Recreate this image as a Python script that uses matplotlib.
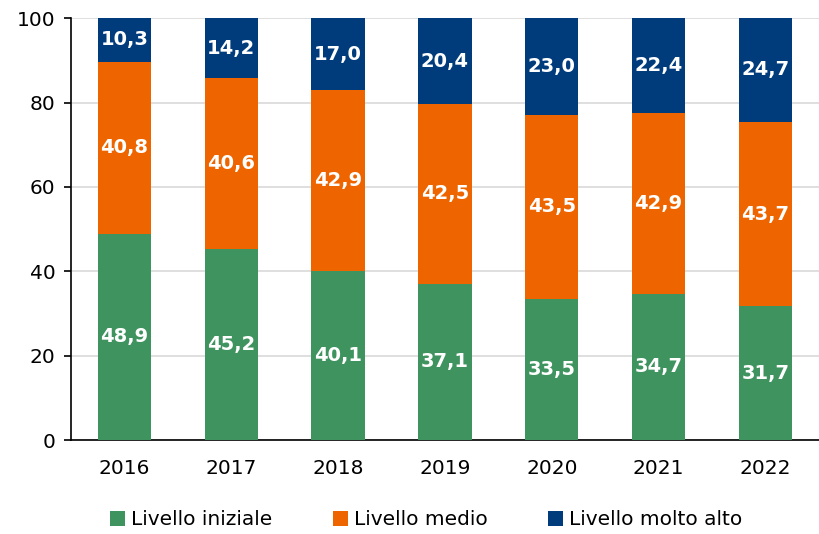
import matplotlib
matplotlib.use("Agg")
import matplotlib.pyplot as plt
import numpy as np

years = ["2016", "2017", "2018", "2019", "2020", "2021", "2022"]
iniziale = [48.9, 45.2, 40.1, 37.1, 33.5, 34.7, 31.7]
medio = [40.8, 40.6, 42.9, 42.5, 43.5, 42.9, 43.7]
molto_alto = [10.3, 14.2, 17.0, 20.4, 23.0, 22.4, 24.7]

GREEN = "#3F935F"
ORANGE = "#EE6500"
NAVY = "#003B7B"

plt.rcParams["font.family"] = ["DejaVu Sans"]

fig = plt.figure(figsize=(8.2, 5.34), dpi=100)
ax = fig.add_axes([0.0866, 0.176, 0.912, 0.79])

x = np.arange(len(years))
bottom = np.zeros(len(years))
series = [("Livello iniziale", iniziale, GREEN),
          ("Livello medio", medio, ORANGE),
          ("Livello molto alto", molto_alto, NAVY)]
for label, vals, color in series:
    vals = np.array(vals)
    ax.bar(x, vals, 0.5, bottom=bottom, color=color, label=label, zorder=3)
    for xi, b, v in zip(x, bottom, vals):
        ax.text(xi, b + v / 2, f"{v:.1f}".replace(".", ","), ha="center", va="center",
                color="white", fontsize=14, fontweight="bold", zorder=4)
    bottom = bottom + vals

ax.set_xlim(-0.5, len(years) - 0.5)
ax.set_ylim(0, 100)
ax.set_yticks([0, 20, 40, 60, 80, 100])
ax.set_xticks(x)
ax.set_xticklabels(years)
ax.tick_params(axis="y", labelsize=14.5, length=5, width=1.2, pad=6)
ax.tick_params(axis="x", labelsize=14.5, length=0, pad=14)
ax.grid(axis="y", color="#D9D9D9", linewidth=1.2, zorder=0)
for side in ["top", "right"]:
    ax.spines[side].set_visible(False)
ax.spines["left"].set_linewidth(1.2)
ax.spines["bottom"].set_linewidth(1.2)

fig.legend(loc="lower center", bbox_to_anchor=(0.52, -0.025), ncol=3, frameon=False,
           fontsize=14.5, handlelength=0.75, handleheight=0.75, handletextpad=0.3,
           columnspacing=3.0)

fig.savefig("out.png", dpi=100)
